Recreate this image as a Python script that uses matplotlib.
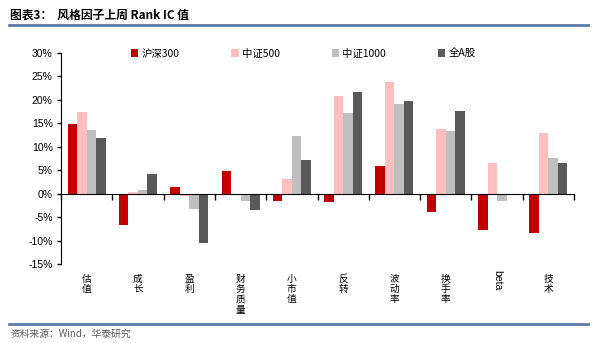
import matplotlib
matplotlib.use('Agg')
import matplotlib.pyplot as plt
import matplotlib.transforms as mtransforms
from matplotlib.lines import Line2D
import numpy as np

plt.rcParams['font.family'] = ['Noto Sans CJK SC', 'DejaVu Sans']
plt.rcParams['axes.unicode_minus'] = False

# style factors and last-week Rank IC (%)
factors = ['估值', '成长', '盈利', '财务质量', '小市值', '反转', '波动率', '换手率', 'beta', '技术']
series_names = ['沪深300', '中证500', '中证1000', '全A股']
hs300 = [14.9, -6.8, 1.4, 4.8, -1.6, -1.7, 5.8, -4.0, -7.7, -8.5]
zz500 = [17.3, 0.4, -0.5, -0.4, 3.2, 20.7, 23.8, 13.7, 6.5, 12.9]
zz1000 = [13.6, 0.7, -3.2, -1.5, 12.2, 17.2, 19.0, 13.3, -1.6, 7.5]
all_a = [11.9, 4.1, -10.5, -3.6, 7.2, 21.6, 19.8, 17.5, 0.0, 6.6]
colors = ['#C00000', '#FFBFBF', '#BFBFBF', '#595959']

fig = plt.figure(figsize=(6.0, 3.43), dpi=100)
ax = fig.add_axes([0.1017, 0.2303, 0.855, 0.6161])

x = np.arange(len(factors))
w = 0.185
for k, vals in enumerate([hs300, zz500, zz1000, all_a]):
    ax.bar(x + (k - 1.5) * w, vals, width=w, color=colors[k], label=series_names[k],
           zorder=2)

ax.set_xlim(-0.5, len(factors) - 0.5)
ax.set_ylim(-15, 30)
ax.set_yticks(range(-15, 31, 5))
ax.set_yticklabels([f'{v}%' for v in range(-15, 31, 5)], fontsize=7.5, family='Liberation Sans')

# x axis sits on the zero line with ticks between groups
ax.spines['bottom'].set_position(('data', 0))
ax.spines['top'].set_visible(False)
ax.spines['right'].set_visible(False)
ax.set_xticks(np.arange(-0.5, len(factors), 1.0))
ax.set_xticklabels([])
ax.tick_params(axis='x', direction='out', length=4, width=1)
ax.tick_params(axis='y', direction='out', length=3, width=1, pad=3)

# vertical category labels below the plot
trans = mtransforms.blended_transform_factory(ax.transData, ax.transAxes)
for i, name in enumerate(factors):
    if name.isascii():
        ax.text(i, -0.03, name, transform=trans, ha='center', va='top',
                rotation=-90, fontsize=7.5, family='Liberation Sans')
    else:
        ax.text(i, -0.045, '\n'.join(name), transform=trans, ha='center', va='top',
                fontsize=7, linespacing=1.05)

leg = ax.legend(loc='upper center', bbox_to_anchor=(0.472, 1.064), ncol=4, frameon=False,
                fontsize=7.5, handlelength=0.7, handleheight=0.7, handletextpad=0.3,
                columnspacing=5.0)

# header / footer
fig.text(0.017, 0.955, '图表3：  风格因子上周 Rank IC 值', fontsize=8.5, fontweight='bold',
         va='center', ha='left')
fig.add_artist(Line2D([0.015, 0.98], [0.927, 0.927], color='#5B7BA6', lw=2,
                      transform=fig.transFigure))
fig.add_artist(Line2D([0.015, 0.98], [0.055, 0.055], color='#5B7BA6', lw=2,
                      transform=fig.transFigure))
fig.text(0.017, 0.028, '资料来源：Wind，华泰研究', fontsize=7, color='#595959',
         va='center', ha='left')

fig.savefig('out.png', dpi=100)
